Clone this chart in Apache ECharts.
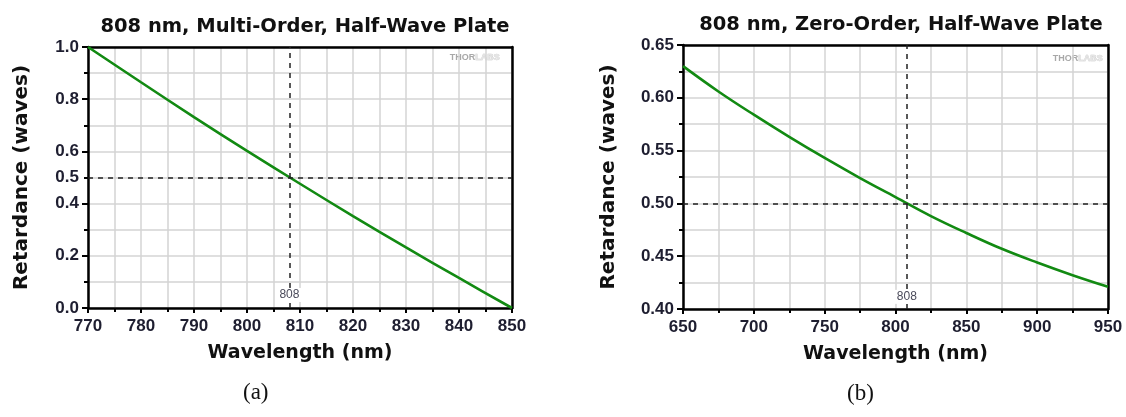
<!DOCTYPE html>
<html>
<head>
<meta charset="utf-8">
<script src="https://cdn.jsdelivr.net/npm/echarts@6/dist/echarts.min.js"></script>
<style>
html,body{margin:0;padding:0;background:#fff;}
#c{width:1126px;height:417px;}
</style>
</head>
<body>
<div id="c"></div>
<script>
// ---- Data ----
const titleA = '808 nm, Multi-Order, Half-Wave Plate';
const titleB = '808 nm, Zero-Order, Half-Wave Plate';
const xNameA = 'Wavelength (nm)';
const xNameB = 'Wavelength (nm)';
const yName = 'Retardance (waves)';

const wlA = [770, 780, 790, 800, 810, 820, 830, 840, 850];
const retA = [1.0, 0.865, 0.731, 0.602, 0.476, 0.352, 0.232, 0.115, 0.0];

const wlB = [650, 675, 700, 725, 750, 775, 800, 825, 850, 875, 900, 925, 950];
const retB = [0.630, 0.606, 0.584, 0.563, 0.543, 0.524, 0.506, 0.488, 0.472, 0.457, 0.444, 0.432, 0.421];

const yLabelsA = [0, 0.2, 0.4, 0.5, 0.6, 0.8, 1.0];
const designWl = 808;
const designRet = 0.5;
const captions = ['(a)', '(b)'];

// ---- Chart ----
const chart = echarts.init(document.getElementById('c'), null, {renderer: 'canvas'});

const tickFont = {fontFamily: 'Liberation Sans', fontWeight: 'bold', fontSize: 17, color: '#1e1e30'};
const nameFont = {fontFamily: 'DejaVu Sans', fontWeight: 'bold', fontSize: 19, color: '#111'};
const gridLine = {show: true, lineStyle: {color: '#d4d4d4', width: 1.5}};
const black = {color: '#000', width: 2.5};

function xAxis(idx, min, max, interval, name) {
  return {
    type: 'value', gridIndex: idx, min, max, interval,
    name, nameLocation: 'middle', nameGap: 36, nameTextStyle: nameFont,
    axisLine: {show: true, onZero: false, lineStyle: black},
    axisTick: {show: true, inside: false, length: 5, lineStyle: {color: '#000', width: 2}},
    minorTick: {show: true, splitNumber: 2, length: 4, lineStyle: {color: '#000', width: 2}},
    axisLabel: Object.assign({margin: 10}, tickFont),
    splitLine: gridLine,
    minorSplitLine: gridLine
  };
}
function yAxis(idx, min, max, interval, fmtDigits, custom) {
  const lab = Object.assign({margin: 9, formatter: v => (+v).toFixed(fmtDigits)}, tickFont);
  if (custom) lab.customValues = custom;
  return {
    type: 'value', gridIndex: idx, min, max, interval,
    name: yName, nameLocation: 'middle', nameGap: idx === 0 ? 56 : 64,
    nameTextStyle: Object.assign({}, nameFont, {fontSize: 20}),
    axisLine: {show: true, onZero: false, lineStyle: black},
    axisTick: {show: true, inside: false, length: 6, lineStyle: {color: '#000', width: 2}},
    minorTick: {show: true, splitNumber: 2, length: 4, lineStyle: {color: '#000', width: 2}},
    axisLabel: lab,
    splitLine: gridLine,
    minorSplitLine: gridLine
  };
}
function frameX(idx, min, max) {
  return {type: 'value', gridIndex: idx, min, max, position: 'top',
    axisLine: {show: true, onZero: false, lineStyle: black},
    axisTick: {show: false}, axisLabel: {show: false}, splitLine: {show: false}};
}
function frameY(idx, min, max) {
  return {type: 'value', gridIndex: idx, min, max, position: 'right',
    axisLine: {show: true, onZero: false, lineStyle: black},
    axisTick: {show: false}, axisLabel: {show: false}, splitLine: {show: false}};
}

function refLines() {
  return {
    silent: true, symbol: 'none', animation: false,
    label: {show: false},
    lineStyle: {color: '#222', width: 1.5, type: [5, 5]},
    data: [{xAxis: designWl}, {yAxis: designRet}]
  };
}
function refLabel(y) {
  return {
    symbol: 'rect', symbolSize: 0, silent: true,
    label: {show: true, formatter: String(designWl), position: 'inside', fontFamily: 'Liberation Sans', fontSize: 12, color: '#4a4a5a', backgroundColor: '#fff', padding: [1, 2]},
    data: [{coord: [designWl, y]}]
  };
}

const option = {
  animation: false,
  backgroundColor: '#fff',
  title: [
    {text: titleA, left: 300, top: 12, textAlign: 'center',
     textStyle: {fontFamily: 'DejaVu Sans', fontWeight: 'bold', fontSize: 19.5, color: '#111'}},
    {text: titleB, left: 896, top: 10, textAlign: 'center',
     textStyle: {fontFamily: 'DejaVu Sans', fontWeight: 'bold', fontSize: 19.5, color: '#111'}}
  ],
  grid: [
    {left: 88, top: 47, width: 424, height: 261},
    {left: 683, top: 45, width: 425, height: 264}
  ],
  xAxis: [
    xAxis(0, 770, 850, 10, xNameA),
    xAxis(1, 650, 950, 50, xNameB),
    frameX(0, 770, 850),
    frameX(1, 650, 950)
  ],
  yAxis: [
    yAxis(0, 0, 1, 0.2, 1, yLabelsA),
    yAxis(1, 0.4, 0.65, 0.05, 2, null),
    frameY(0, 0, 1),
    frameY(1, 0.4, 0.65)
  ],
  series: [
    {
      type: 'line', xAxisIndex: 0, yAxisIndex: 0, smooth: 0.3, showSymbol: false,
      lineStyle: {color: '#128a12', width: 2.6},
      data: wlA.map((x, i) => [x, retA[i]]),
      markLine: refLines(),
      markPoint: refLabel(0.05)
    },
    {
      type: 'line', xAxisIndex: 1, yAxisIndex: 1, smooth: 0.4, showSymbol: false,
      lineStyle: {color: '#128a12', width: 2.6},
      data: wlB.map((x, i) => [x, retB[i]]),
      markLine: refLines(),
      markPoint: refLabel(0.4115)
    }
  ],
  graphic: [
    {type: 'text', right: 1126 - 500, top: 53, style: {
      text: '{t|THOR}{l|LABS}',
      rich: {t: {fontFamily: 'Liberation Sans', fontWeight: 'bold', fontSize: 9, fill: '#a8a8a8'},
             l: {fontFamily: 'Liberation Sans', fontWeight: 'bold', fontSize: 9, fill: '#e4e4e4', stroke: '#c8c8c8', lineWidth: 0.5}}}},
    {type: 'text', right: 1126 - 1103, top: 54, style: {
      text: '{t|THOR}{l|LABS}',
      rich: {t: {fontFamily: 'Liberation Sans', fontWeight: 'bold', fontSize: 9, fill: '#a8a8a8'},
             l: {fontFamily: 'Liberation Sans', fontWeight: 'bold', fontSize: 9, fill: '#e4e4e4', stroke: '#c8c8c8', lineWidth: 0.5}}}},
    {type: 'text', left: 243, top: 381, style: {text: captions[0], fontFamily: 'Liberation Serif', fontSize: 23, fill: '#111'}},
    {type: 'text', left: 847, top: 382, style: {text: captions[1], fontFamily: 'Liberation Serif', fontSize: 23, fill: '#111'}}
  ]
};
chart.setOption(option);
</script>
</body>
</html>
